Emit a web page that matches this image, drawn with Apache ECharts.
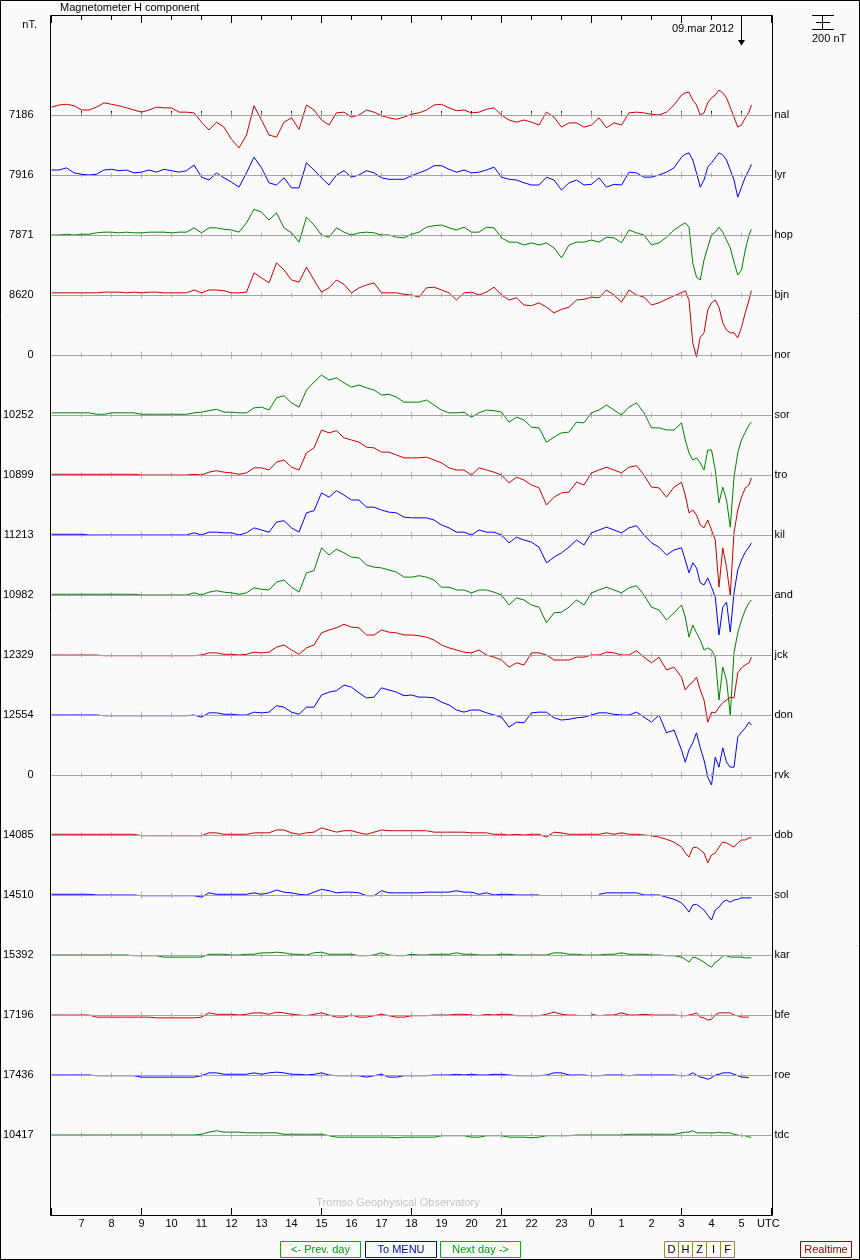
<!DOCTYPE html>
<html><head><meta charset="utf-8">
<script src="https://cdn.jsdelivr.net/npm/echarts/dist/echarts.min.js"></script>
<style>html,body{margin:0;padding:0;background:#fafafa}#c{width:860px;height:1260px}</style>
</head><body><div id="c"></div>
<script>
// ---- time grid (hours since 00 UTC 08 Mar; 24 = 00 UTC 09 Mar) ----
const TIMES = [6,6.25,6.5,6.75,7,7.25,7.5,7.75,8,8.25,8.5,8.75,9,9.25,9.5,9.75,10,10.25,10.5,10.75,11,11.25,11.5,11.75,12,12.25,12.5,12.75,13,13.25,13.5,13.75,14,14.25,14.5,14.75,15,15.25,15.5,15.75,16,16.25,16.5,16.75,17,17.25,17.5,17.75,18,18.25,18.5,18.75,19,19.25,19.5,19.75,20,20.25,20.5,20.75,21,21.25,21.5,21.75,22,22.25,22.5,22.75,23,23.25,23.5,23.75,24,24.25,24.5,24.75,25,25.25,25.5,25.75,26,26.25,26.5,26.75,27,27.125,27.25,27.375,27.5,27.625,27.75,27.875,28,28.125,28.25,28.375,28.5,28.625,28.75,28.875,29,29.125,29.25,29.33];
const HOUR_TICKS = [7,8,9,10,11,12,13,14,15,16,17,18,19,20,21,22,23,24,25,26,27,28,29];

// ---- stations, baseline values (nT) ----
const STATIONS  = ['nal','lyr','hop','bjn','nor','sor','tro','kil','and','jck','don','rvk','dob','sol','kar','bfe','roe','tdc'];
const BASELINES = [7186,7916,7871,8620,0,10252,10899,11213,10982,12329,12554,0,14085,14510,15392,17196,17436,10417];

// ---- H deviations from baseline (nT), sampled on TIMES ----
const nal = [110,140,150,130,70,70,110,170,150,130,100,70,40,70,110,100,100,40,40,30,-100,-210,-100,-170,-340,-460,-280,130,-70,-280,-310,-100,-40,-200,140,70,-70,-140,30,40,-30,0,70,40,-10,-40,-60,-30,
 10,30,70,140,150,100,60,70,30,40,80,100,0,-70,-100,-70,-100,-140,40,-30,-170,-110,-110,-170,-140,-40,-180,-110,-140,30,40,30,10,0,40,140,
 280,310,320,210,140,0,30,170,240,280,350,310,240,110,-30,-170,-140,-40,40,140];
const lyr = [70,70,100,30,10,0,10,70,80,60,70,30,40,70,40,80,60,40,60,140,-30,-70,30,-40,-100,-170,30,250,100,-110,-140,-40,-180,-180,170,70,-40,-140,0,60,-30,0,60,30,-40,-60,-60,-60,
 -10,30,70,130,130,80,40,70,30,40,70,110,-30,-60,-70,-110,-140,-140,-30,-70,-210,-110,-70,-140,-130,-40,-170,-130,-140,40,30,-30,-30,0,40,100,
 250,290,310,210,30,-170,-70,110,170,240,310,280,210,70,-70,-310,-170,-30,70,150];
const hop = [0,0,10,0,10,10,30,40,40,30,40,30,30,40,40,40,30,40,40,100,30,100,100,80,70,40,170,360,320,210,310,100,30,-100,250,140,0,-30,100,40,0,30,40,30,0,0,-30,-40,
 10,40,110,130,140,100,70,110,40,40,110,100,-40,-100,-100,-140,-110,-140,-110,-180,-320,-140,-100,-100,-70,-100,-30,-40,-110,70,30,0,-140,-110,-30,70,
 140,170,110,-390,-590,-630,-350,-170,0,40,110,40,-70,-180,-380,-560,-490,-210,0,80];
const bjn = [30,30,30,30,30,30,30,40,40,40,30,40,30,40,40,30,30,30,30,70,30,70,70,60,30,30,40,310,240,170,450,350,210,180,390,210,40,100,210,150,30,100,140,170,30,30,30,10,
 0,-30,100,110,70,30,-70,30,40,0,40,110,0,-70,-40,-140,-150,-110,-170,-250,-200,-170,-70,-60,-30,-40,70,0,-100,70,0,-30,-140,-110,-60,-10,
 30,60,-70,-670,-870,-590,-530,-210,-110,-70,-170,-390,-490,-530,-530,-600,-450,-250,-70,60];
const sor = [30,30,30,30,30,30,10,10,30,30,30,30,10,10,10,10,10,10,10,30,40,60,80,40,40,30,30,100,110,70,240,270,170,110,350,460,560,490,520,450,390,420,380,350,280,290,250,180,
 180,180,210,140,70,30,30,40,-30,30,70,60,40,-100,-30,-70,-170,-180,-380,-310,-250,-240,-100,-110,30,70,140,70,0,110,170,30,-180,-180,-210,-210,
 -110,-350,-530,-630,-600,-670,-770,-490,-490,-770,-1230,-1010,-1190,-1570,-870,-530,-350,-240,-140,-100];
const tro = [10,10,10,10,10,10,10,10,10,10,10,10,0,0,0,0,0,0,0,10,0,40,60,40,30,10,30,100,100,70,180,210,110,70,310,380,630,590,620,520,490,460,390,380,320,320,280,240,
 240,240,250,210,170,100,70,70,0,100,70,40,0,-110,-30,-70,-140,-180,-420,-310,-250,-240,-100,-140,30,70,110,70,30,110,130,0,-170,-180,-310,-170,
 -100,-280,-530,-490,-560,-700,-740,-630,-770,-910,-1570,-1020,-1290,-1680,-810,-490,-310,-180,-140,-40];
const kil = [10,10,10,10,10,0,0,0,0,0,0,0,0,0,0,0,0,0,0,30,0,40,40,30,30,0,30,100,70,40,180,200,100,40,310,340,590,530,620,560,490,490,390,390,350,320,310,250,
 240,240,240,210,140,100,40,40,0,70,40,40,0,-110,-30,-70,-100,-170,-390,-310,-250,-170,-70,-140,30,70,110,70,30,100,130,0,-110,-170,-280,-210,
 -180,-350,-530,-390,-460,-670,-700,-600,-730,-870,-1400,-1010,-940,-1360,-810,-490,-350,-240,-170,-110];
const and = [10,10,10,10,10,10,10,10,10,10,10,10,0,0,0,0,0,0,0,30,0,40,60,40,30,10,30,100,80,70,180,210,110,40,310,340,660,560,640,590,530,520,420,390,380,350,320,250,
 250,270,250,210,110,110,70,70,30,70,70,40,0,-140,-40,-70,-140,-170,-390,-250,-240,-170,-70,-140,30,70,110,70,30,100,130,0,-170,-210,-350,-250,
 -140,-310,-590,-420,-530,-630,-770,-740,-770,-870,-1470,-1010,-1190,-1680,-810,-530,-350,-210,-110,-70];
const jck = [0,0,0,0,0,0,0,-10,-10,-10,-10,-10,-10,-10,-10,-10,-10,-10,-10,-10,0,30,30,10,10,0,10,40,30,40,110,140,70,10,100,140,310,350,380,430,390,380,280,280,350,320,310,280,
 280,270,250,210,140,100,70,40,30,70,0,-30,-70,-170,-110,-140,30,30,0,-70,-70,-70,-30,-30,0,0,40,30,0,0,60,-30,-110,-30,-210,-170,
 -310,-490,-420,-380,-310,-490,-630,-940,-800,-810,-730,-670,-630,-590,-600,-250,-180,-140,-110,-30];
const don = [0,0,0,0,0,0,0,-10,-10,-10,-10,-10,-10,-10,-10,-10,-10,-10,-10,0,-30,30,30,10,10,0,0,40,30,40,130,110,40,10,110,110,280,320,340,420,390,310,240,250,380,350,320,270,
 280,250,250,240,180,140,70,40,70,70,30,0,-30,-170,-100,-110,30,40,40,-40,-70,-60,-40,-30,0,30,30,10,0,0,40,-30,-100,0,-250,-210,
 -490,-660,-490,-390,-250,-460,-630,-870,-980,-590,-730,-460,-660,-730,-730,-310,-240,-180,-100,-140];
const dob = [10,10,10,10,10,10,10,10,10,10,10,10,-10,-10,-10,-10,-10,-10,-10,-10,-10,30,30,10,10,10,10,30,30,30,70,70,30,10,30,40,100,70,40,60,60,30,10,40,70,60,60,60,
 60,60,60,40,40,40,40,40,30,30,30,10,10,0,10,0,10,10,-30,40,30,10,10,10,10,10,30,10,30,10,10,0,-10,-30,-60,-100,
 -170,-250,-310,-180,-170,-210,-250,-390,-280,-250,-170,-100,-110,-140,-170,-110,-70,-70,-40,-40];
const sol = [10,10,10,10,10,10,0,0,0,0,0,0,-10,-10,-10,-10,-10,-10,-10,-10,-30,30,10,10,10,10,10,30,10,30,70,40,30,10,0,40,80,60,30,40,40,30,-10,-10,60,30,30,30,
 30,30,40,40,40,40,60,40,40,10,30,0,10,10,0,0,0,0,null,null,null,null,null,null,null,10,30,30,30,30,30,0,0,0,-30,-60,
 -110,-170,-240,-140,-130,-170,-210,-280,-350,-210,-170,-100,-70,-100,-70,-60,-40,-40,-40,-40];
const kar = [0,0,0,0,0,0,0,0,0,0,0,-10,-10,-10,-10,-30,-30,-30,-30,-30,-30,10,10,10,0,0,10,10,30,30,40,30,10,10,0,30,40,10,10,10,10,-10,-10,0,30,0,-10,-10,
 10,0,0,10,10,10,30,10,10,0,0,0,10,10,0,0,0,0,0,30,30,10,10,0,0,0,10,10,30,10,10,10,0,0,-10,-10,
 -30,-60,-100,-30,-40,-70,-100,-140,-170,-100,-70,-10,-10,-30,-30,-30,-30,-40,-40,-40];
const bfe = [0,0,0,0,0,0,-30,-30,-30,-30,-30,-30,-30,-30,-40,-40,-40,-40,-40,-40,-30,30,10,10,10,0,10,30,30,10,40,30,10,0,-10,10,30,0,-30,-30,0,-30,-30,-10,10,-10,-30,-30,
 -10,-10,-10,0,0,0,10,10,0,-10,10,0,10,10,-10,-10,-10,-10,10,40,10,0,0,null,10,-10,0,0,30,0,0,10,0,0,0,0,
 -10,-10,0,10,30,-30,-40,-70,-60,0,30,30,30,30,0,-10,-30,-30,-30,null];
const roe = [0,0,0,0,0,0,-10,-10,-10,-10,-10,-10,-30,-30,-30,-30,-30,-30,-30,-30,-10,30,30,10,10,10,10,30,10,30,40,30,10,10,0,10,30,0,-10,-10,-10,-10,-30,-10,10,-30,-30,-10,
 -10,-10,-10,0,0,0,10,0,10,0,0,10,10,0,-10,-10,-10,-10,0,30,30,0,0,0,-10,-10,0,0,0,-10,0,0,0,0,0,0,
 -10,-10,0,30,0,-30,-40,-60,-40,0,10,30,30,30,10,-10,-30,-30,-40,null];
const tdc = [0,0,0,0,0,0,0,0,0,0,0,0,0,0,0,0,0,0,0,0,10,40,60,40,40,40,30,30,30,30,30,10,10,10,10,10,10,-10,-30,-30,-30,-30,-30,-30,-30,-30,-40,-30,
 -30,-30,-30,-30,-10,-10,-10,-10,-30,-30,-10,-10,-10,-30,-30,-30,-40,-30,-10,-10,-10,-10,0,0,0,0,0,0,0,10,10,10,10,10,10,10,
 30,40,40,60,30,30,30,30,30,30,40,30,30,30,10,0,-10,-10,-30,-30];

const DATA = {nal, lyr, hop, bjn, sor, tro, kil, and, jck, don, dob, sol, kar, bfe, roe, tdc};

// ---- layout / style constants ----
const STEP = 840;               // nT between stacked station baselines
const COLORS = ['#cc0000', '#0000ff', '#008000'];
const FONT = '"Liberation Sans", Arial, sans-serif';
const TXT = {fontFamily: FONT, fontSize: 11, color: '#000'};

const series = [];
// baselines + labels
series.push({
  type: 'line', data: [], silent: true, z: 1, animation: false,
  markLine: {
    symbol: 'none', silent: true, animation: false,
    lineStyle: {color: '#a4a4a4', width: 1, type: 'solid'},
    emphasis: {disabled: true},
    data: STATIONS.flatMap((code, i) => [
      {yAxis: -STEP * i, label: Object.assign({show: true, position: 'start', distance: 18, formatter: String(BASELINES[i])}, TXT)},
      {yAxis: -STEP * i, label: Object.assign({show: true, position: 'end', distance: 3, formatter: code}, TXT)}
    ])
  }
});
// hour ticks on each baseline
const tickPts = [];
STATIONS.forEach((c, i) => HOUR_TICKS.forEach(h => tickPts.push([h, -STEP * i])));
series.push({
  type: 'scatter', data: tickPts, symbol: 'rect', silent: true, z: 2, animation: false,
  symbolSize: v => (v[0] % 3 === 0 ? [1, 7] : [1, 5]),
  itemStyle: {color: '#a4a4a4'}
});
// station traces
STATIONS.forEach((code, i) => {
  const vals = DATA[code];
  if (!vals) return;
  const off = -STEP * i;
  series.push({
    type: 'line', name: code, z: 3, animation: false, silent: true,
    symbol: 'none', connectNulls: false,
    lineStyle: {width: 1, color: COLORS[i % 3]},
    itemStyle: {color: COLORS[i % 3]},
    data: TIMES.map((t, k) => [t, (vals[k] == null) ? '-' : vals[k] + off])
  });
});

function xAx(pos, interval, len, labels) {
  return {
    type: 'value', min: 6, max: 30, interval: interval, position: pos, gridIndex: 0,
    splitLine: {show: false},
    axisLine: {show: false},
    axisTick: {show: true, inside: true, length: len, lineStyle: {color: '#000', width: 1}},
    axisLabel: labels ? {show: true, formatter: v => String(v % 24), margin: 3,
      showMinLabel: false, showMaxLabel: false, fontFamily: FONT, fontSize: 11, color: '#000'} : {show: false}
  };
}

function btn(x, w, label, stroke, fill) {
  return [
    {type: 'rect', shape: {x: x + 0.5, y: 1241.5, width: w, height: 16}, style: {fill: 'none', stroke: stroke, lineWidth: 1}},
    {type: 'text', x: x + w / 2 + 0.5, y: 1250, style: {text: label, fill: fill, font: '11px ' + FONT, align: 'center', verticalAlign: 'middle'}}
  ];
}

const graphic = [
  {type: 'rect', shape: {x: 0.5, y: 0.5, width: 859, height: 1259}, style: {fill: 'none', stroke: '#000', lineWidth: 1}, z: 100},
  {type: 'rect', shape: {x: 50.5, y: 15.5, width: 722, height: 1200}, style: {fill: 'none', stroke: '#000', lineWidth: 1}, z: 100},
  {type: 'text', x: 60, y: 8, style: {text: 'Magnetometer H component', fill: '#000', font: '11px ' + FONT, align: 'left', verticalAlign: 'middle'}},
  {type: 'text', x: 37, y: 25, style: {text: 'nT.', fill: '#000', font: '11px ' + FONT, align: 'right', verticalAlign: 'middle'}},
  {type: 'text', x: 672, y: 28.5, style: {text: '09.mar 2012', fill: '#000', font: '11px ' + FONT, align: 'left', verticalAlign: 'middle'}},
  {type: 'line', shape: {x1: 741.5, y1: 15, x2: 741.5, y2: 43}, style: {stroke: '#000', lineWidth: 1}},
  {type: 'polygon', shape: {points: [[738, 40], [745, 40], [741.5, 45.5]]}, style: {fill: '#000'}},
  // 200 nT scale bar
  {type: 'line', shape: {x1: 812, y1: 15.5, x2: 834, y2: 15.5}, style: {stroke: '#000', lineWidth: 1}},
  {type: 'line', shape: {x1: 822.5, y1: 15.5, x2: 822.5, y2: 29.5}, style: {stroke: '#000', lineWidth: 1}},
  {type: 'line', shape: {x1: 816, y1: 22.5, x2: 830, y2: 22.5}, style: {stroke: '#000', lineWidth: 1}},
  {type: 'line', shape: {x1: 812, y1: 29.5, x2: 834, y2: 29.5}, style: {stroke: '#000', lineWidth: 1}},
  {type: 'text', x: 812, y: 38.5, style: {text: '200 nT', fill: '#000', font: '11px ' + FONT, align: 'left', verticalAlign: 'middle'}},
  {type: 'text', x: 398, y: 1203, style: {text: 'Tromso Geophysical Observatory', fill: '#c4c4c4', font: '11px ' + FONT, align: 'center', verticalAlign: 'middle'}},
  {type: 'text', x: 757, y: 1224, style: {text: 'UTC', fill: '#000', font: '11px ' + FONT, align: 'left', verticalAlign: 'middle'}},
  ...btn(280, 80, '<- Prev. day', '#00b000', '#00a000'),
  ...btn(365, 71, 'To MENU', '#0000cc', '#0000cc'),
  ...btn(440, 80, 'Next day ->', '#00b000', '#00a000'),
  {type: 'rect', shape: {x: 664.5, y: 1241.5, width: 70, height: 16}, style: {fill: 'none', stroke: '#a09000', lineWidth: 1}},
  ...[678.5, 692.5, 706.5, 720.5].map(x => ({type: 'line', shape: {x1: x, y1: 1241.5, x2: x, y2: 1257.5}, style: {stroke: '#a09000', lineWidth: 1}})),
  ...['D', 'H', 'Z', 'I', 'F'].map((s, k) => ({type: 'text', x: 671.5 + 14 * k, y: 1250, style: {text: s, fill: '#000', font: '11px ' + FONT, align: 'center', verticalAlign: 'middle'}})),
  ...btn(800, 51, 'Realtime', '#990000', '#990000')
];

const chart = echarts.init(document.getElementById('c'), null, {renderer: 'canvas'});
chart.setOption({
  backgroundColor: '#fafafa',
  animation: false,
  grid: {left: 51.5, top: 15, width: 720, height: 1200, containLabel: false, outerBoundsMode: 'none', show: false},
  xAxis: [xAx('bottom', 1, 4, true), xAx('bottom', 3, 7, false), xAx('top', 1, 5, false), xAx('top', 3, 8, false)],
  yAxis: {type: 'value', min: -15400, max: 1400, show: false, splitLine: {show: false}},
  series: series,
  graphic: graphic
});
</script></body></html>
